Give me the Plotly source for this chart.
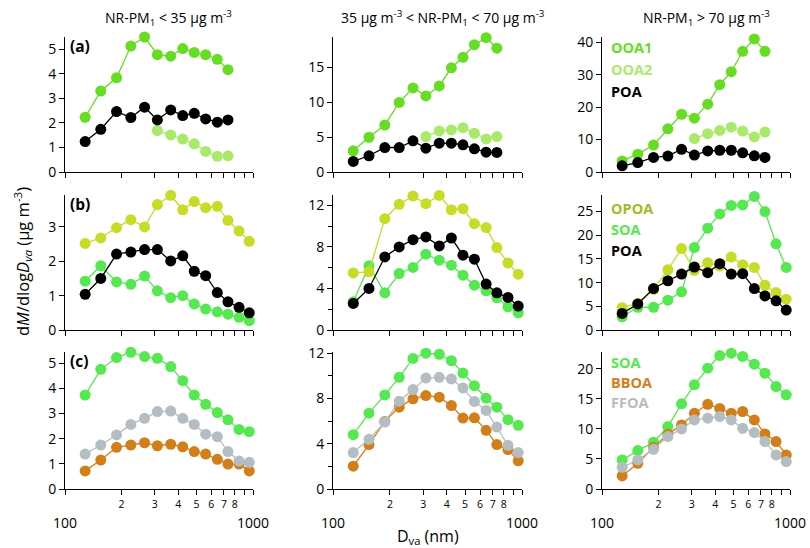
import plotly.graph_objects as go

# ---------------- data ----------------
DVA = [128, 155, 188, 224, 265, 310, 365, 423, 487, 560, 646, 736, 843, 955]
DVA12 = DVA[:12]
DVA_OOA2 = DVA[5:12]

# (a) OOA1 / OOA2 / POA
a1_ooa1 = [2.23, 3.30, 3.84, 5.13, 5.50, 4.78, 4.72, 5.03, 4.87, 4.78, 4.59, 4.17]
a1_ooa2 = [1.69, 1.51, 1.34, 1.15, 0.84, 0.64, 0.66]
a1_poa = [1.24, 1.74, 2.46, 2.22, 2.64, 2.12, 2.53, 2.30, 2.39, 2.16, 2.03, 2.12]

a2_ooa1 = [3.03, 4.97, 6.72, 9.94, 12.02, 10.88, 12.3, 14.9, 16.4, 18.2, 19.2, 17.7]
a2_ooa2 = [5.06, 5.87, 6.01, 6.34, 5.54, 4.73, 5.06]
a2_poa = [1.51, 2.32, 3.50, 3.50, 4.45, 3.41, 4.12, 4.12, 3.88, 3.31, 2.84, 2.79]

a3_ooa1 = [3.4, 5.5, 8.3, 13.3, 17.8, 16.6, 20.9, 26.9, 30.9, 37.2, 41.0, 37.2]
a3_ooa2 = [10.3, 11.8, 12.8, 13.8, 12.6, 10.8, 12.3]
a3_poa = [1.9, 2.9, 4.5, 4.9, 7.0, 5.2, 6.5, 6.7, 6.7, 5.9, 5.0, 4.5]

# (b) OPOA / SOA / POA
b1_opoa = [2.52, 2.68, 2.98, 3.21, 3.00, 3.65, 3.92, 3.50, 3.74, 3.56, 3.60, 3.19, 2.88, 2.58]
b1_soa = [1.42, 1.87, 1.40, 1.33, 1.57, 1.14, 0.94, 1.00, 0.76, 0.61, 0.53, 0.46, 0.37, 0.27]
b1_poa = [1.04, 1.50, 2.21, 2.27, 2.34, 2.34, 2.01, 2.16, 1.71, 1.58, 1.09, 0.82, 0.66, 0.50]

b2_opoa = [5.50, 5.60, 10.72, 12.1, 12.9, 12.16, 12.96, 11.58, 11.68, 10.24, 9.86, 7.94, 6.46, 5.38]
b2_soa = [2.72, 6.18, 3.58, 5.44, 6.02, 7.30, 6.72, 6.24, 5.28, 4.32, 3.78, 3.10, 2.24, 1.66]
b2_poa = [2.56, 4.00, 7.04, 8.00, 8.70, 8.96, 8.10, 8.86, 7.20, 6.82, 4.42, 3.58, 3.14, 2.30]

b3_opoa = [4.7, 5.6, 8.6, 12.7, 17.2, 12.6, 14.2, 13.5, 15.4, 13.8, 13.2, 9.45, 7.9, 6.5]
b3_soa = [2.8, 4.8, 4.8, 6.3, 8.05, 17.4, 21.5, 24.5, 26.3, 26.4, 28.2, 25.0, 18.2, 13.2]
b3_poa = [3.5, 5.5, 8.75, 10.4, 11.8, 13.3, 12.1, 14.0, 11.8, 11.9, 8.75, 7.2, 6.16, 4.2]

# (c) SOA / BBOA / FFOA
c1_soa = [3.74, 4.76, 5.23, 5.44, 5.27, 5.20, 4.87, 4.31, 3.74, 3.37, 3.04, 2.75, 2.37, 2.28]
c1_bboa = [0.72, 1.15, 1.66, 1.75, 1.84, 1.72, 1.78, 1.68, 1.49, 1.39, 1.18, 0.99, 0.99, 0.72]
c1_ffoa = [1.39, 1.75, 2.15, 2.57, 2.81, 3.08, 3.10, 2.81, 2.57, 2.18, 2.08, 1.49, 1.11, 1.06]

c2_soa = [4.8, 6.7, 8.31, 9.86, 11.53, 12.0, 11.9, 11.33, 10.24, 9.13, 8.02, 7.23, 6.12, 5.62]
c2_bboa = [2.02, 3.92, 5.97, 7.23, 7.96, 8.25, 8.11, 7.37, 6.26, 6.29, 5.18, 3.92, 3.48, 2.49]
c2_ffoa = [3.22, 4.39, 5.91, 7.76, 8.78, 9.80, 9.86, 9.72, 8.93, 7.73, 6.94, 5.47, 3.86, 3.22]

c3_soa = [4.83, 6.39, 7.78, 10.39, 14.17, 17.33, 20.1, 22.2, 22.6, 22.06, 20.78, 19.28, 17.06, 15.67]
c3_bboa = [2.17, 4.28, 6.94, 9.11, 10.67, 12.6, 14.1, 13.4, 12.6, 12.9, 11.5, 9.17, 7.89, 5.67]
c3_ffoa = [3.61, 4.83, 6.61, 8.72, 10.0, 11.5, 11.78, 12.06, 11.5, 10.1, 9.39, 7.89, 5.67, 4.56]

X_MAJOR_VALS = [200, 300, 400, 500, 600, 700, 800]
X_MAJOR_TEXT = ["2", "3", "4", "5", "6", "7", "8"]
X_MINOR_VALS = [100, 900, 1000]

COL_TITLES = [
    "NR-PM<sub>1</sub> &lt; 35 μg m<sup>-3</sup>",
    "35 μg m<sup>-3</sup> &lt; NR-PM<sub>1</sub> &lt; 70 μg m<sup>-3</sup>",
    "NR-PM<sub>1</sub> &gt; 70 μg m<sup>-3</sup>",
]
PANEL_LABELS = ["(a)", "(b)", "(c)"]

# ---------------- styles ----------------
C_OOA1 = "#66dd22"
C_OOA2 = "#aaea6a"
C_POA = "#000000"
C_OPOA = "#c6dc26"
C_OPOA_TXT = "#a6ba1c"
C_SOA = "#55e850"
C_BBOA = "#d27f1a"
C_FFOA = "#b4bec2"

FONT = "Open Sans"
W, H = 810, 548

# pixel geometry of the plot areas
COL_X = [(65, 253), (333, 522), (602, 790)]
ROW_Y = [(37, 172), (195, 330), (352, 489)]
TITLE_DX = [9, 15, 10]

Y_RANGES = [
    [[0, 5.5], [0, 19.3], [0, 41.6]],
    [[0, 3.93], [0, 13.0], [0, 28.5]],
    [[0, 5.45], [0, 12.1], [0, 22.8]],
]
Y_TICKS = [
    [[0, 1, 2, 3, 4, 5], [0, 5, 10, 15], [0, 10, 20, 30, 40]],
    [[0, 1, 2, 3], [0, 4, 8, 12], [0, 5, 10, 15, 20, 25]],
    [[0, 1, 2, 3, 4, 5], [0, 4, 8, 12], [0, 5, 10, 15, 20]],
]
Y_MINOR = [
    [None, None, None],
    [None, [2, 6, 10], None],
    [None, [2, 6, 10], None],
]

panels = [
    [
        [(DVA12, a1_ooa1, C_OOA1), (DVA_OOA2, a1_ooa2, C_OOA2), (DVA12, a1_poa, C_POA)],
        [(DVA12, a2_ooa1, C_OOA1), (DVA_OOA2, a2_ooa2, C_OOA2), (DVA12, a2_poa, C_POA)],
        [(DVA12, a3_ooa1, C_OOA1), (DVA_OOA2, a3_ooa2, C_OOA2), (DVA12, a3_poa, C_POA)],
    ],
    [
        [(DVA, b1_soa, C_SOA), (DVA, b1_opoa, C_OPOA), (DVA, b1_poa, C_POA)],
        [(DVA, b2_soa, C_SOA), (DVA, b2_opoa, C_OPOA), (DVA, b2_poa, C_POA)],
        [(DVA, b3_soa, C_SOA), (DVA, b3_opoa, C_OPOA), (DVA, b3_poa, C_POA)],
    ],
    [
        [(DVA, c1_soa, C_SOA), (DVA, c1_bboa, C_BBOA), (DVA, c1_ffoa, C_FFOA)],
        [(DVA, c2_soa, C_SOA), (DVA, c2_bboa, C_BBOA), (DVA, c2_ffoa, C_FFOA)],
        [(DVA, c3_soa, C_SOA), (DVA, c3_bboa, C_BBOA), (DVA, c3_ffoa, C_FFOA)],
    ],
]

fig = go.Figure()
layout_axes = {}

for r in range(3):
    for c in range(3):
        n = r * 3 + c + 1
        xs = "" if n == 1 else str(n)
        x0, x1 = COL_X[c]
        y0, y1 = ROW_Y[r]
        for (xv, yv, col) in panels[r][c]:
            fig.add_trace(go.Scatter(
                x=xv, y=yv, mode="lines+markers",
                line=dict(color=col, width=1.3),
                marker=dict(color=col, size=11, line=dict(width=0)),
                xaxis="x" + xs, yaxis="y" + xs, showlegend=False,
                hoverinfo="x+y", cliponaxis=False,
            ))
        xa = dict(
            type="log", range=[2, 3], domain=[x0 / W, x1 / W],
            anchor="y" + xs, showgrid=False, zeroline=False, automargin=False,
            showline=True, linecolor="black", linewidth=1,
            ticks="outside", ticklen=5, tickcolor="black", tickwidth=1,
            tickmode="array", tickvals=X_MAJOR_VALS, ticktext=X_MAJOR_TEXT,
            showticklabels=(r == 2),
            tickfont=dict(family=FONT, size=10.5, color="black"),
            minor=dict(tickmode="array", tickvals=X_MINOR_VALS, ticks="outside",
                       ticklen=5, tickcolor="black", tickwidth=1, showgrid=False),
        )
        ya = dict(
            range=Y_RANGES[r][c], domain=[1 - y1 / H, 1 - y0 / H],
            anchor="x" + xs, showgrid=False, zeroline=False, automargin=False,
            showline=True, linecolor="black", linewidth=1,
            ticks="outside", ticklen=5, tickcolor="black", tickwidth=1,
            tickmode="array", tickvals=Y_TICKS[r][c],
            tickfont=dict(family=FONT, size=14, color="black"),
        )
        if Y_MINOR[r][c]:
            ya["minor"] = dict(tickmode="array", tickvals=Y_MINOR[r][c], ticks="outside",
                               ticklen=4, tickcolor="black", tickwidth=1, showgrid=False)
        layout_axes["xaxis" + xs] = xa
        layout_axes["yaxis" + xs] = ya


def ann(text, px, py, size, color="black", xanchor="center", angle=0):
    return dict(
        text=text, x=px / W, y=1 - py / H, xref="paper", yref="paper",
        xanchor=xanchor, yanchor="middle", showarrow=False, textangle=angle,
        font=dict(family=FONT, size=size, color=color),
    )


annotations = []
# column titles
for c, t in enumerate(COL_TITLES):
    x0, x1 = COL_X[c]
    annotations.append(ann(t, (x0 + x1) / 2 + TITLE_DX[c], 18, 14))
# panel labels
for r, t in enumerate(PANEL_LABELS):
    annotations.append(ann("<b>" + t + "</b>", 68, ROW_Y[r][0] + 9, 15.5, xanchor="left"))
# 100 / 1000 labels under the bottom row
for c in range(3):
    for px, lab in zip(COL_X[c], ["100", "1000"]):
        annotations.append(ann(lab, px, 522, 14))
# in-panel legends
legend_rows = [
    [("OOA1", C_OOA1), ("OOA2", C_OOA2), ("POA", C_POA)],
    [("OPOA", C_OPOA_TXT), ("SOA", C_SOA), ("POA", C_POA)],
    [("SOA", C_SOA), ("BBOA", C_BBOA), ("FFOA", C_FFOA)],
]
legend_y = [[47, 69, 91], [208, 229, 250], [362, 382, 402]]
for r in range(3):
    for (lab, col), py in zip(legend_rows[r], legend_y[r]):
        annotations.append(ann("<b>" + lab + "</b>", 609, py, 14.5, color=col, xanchor="left"))
# axis titles
annotations.append(ann("D<sub>va</sub> (nm)", 428, 536, 16))
annotations.append(ann(
    "d<i>M</i>/dlog<i>D</i><sub><i>va</i></sub> (μg m<sup>-3</sup>)",
    22, 262, 16.5, angle=-90))

fig.update_layout(
    template="none",
    width=W, height=H, margin=dict(l=0, r=0, t=0, b=0, autoexpand=False),
    paper_bgcolor="white", plot_bgcolor="white",
    annotations=annotations, **layout_axes,
)

fig.write_html("out.html", config={"displayModeBar": False, "staticPlot": True},
               post_script="document.body.style.margin='0';")
